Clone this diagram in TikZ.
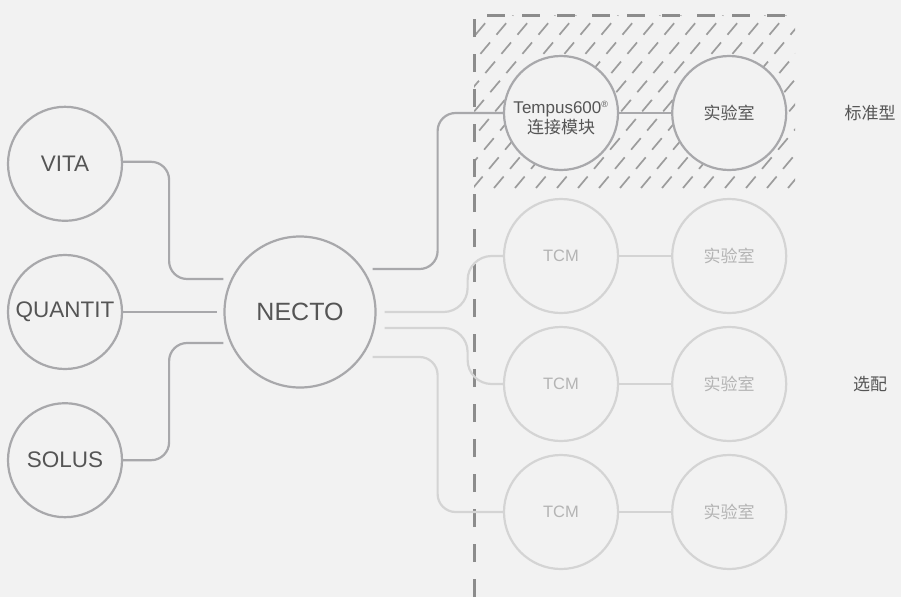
\documentclass[tikz,border=0pt]{standalone}
\usepackage{fontspec}
\setmainfont{Liberation Sans}
\newfontfamily\cjk{Noto Sans CJK SC}
\usetikzlibrary{positioning,calc}

\definecolor{bgGray}{HTML}{F2F2F2}
\definecolor{lineDark}{HTML}{A8A8AB}
\definecolor{linePale}{HTML}{D4D4D4}
\definecolor{textDark}{HTML}{555555}
\definecolor{textPale}{HTML}{B4B4B4}
\definecolor{dashGray}{HTML}{8C8C8C}
\definecolor{hatchGray}{HTML}{9C9C9C}

\begin{document}
\begin{tikzpicture}[x=1pt,y=-1pt,
  unit/.style={circle, draw=lineDark, line width=2.2pt, fill=bgGray, minimum size=114pt, inner sep=0pt, text=textDark, font=\fontsize{22.5}{26}\selectfont},
  hub/.style={unit, minimum size=151pt, font=\fontsize{25}{30}\selectfont},
  module/.style={unit, align=center, font=\fontsize{17}{20}\selectfont},
  optunit/.style={module, draw=linePale, text=textPale},
  link/.style={draw=lineDark, line width=2.2pt, rounded corners=18pt},
  optlink/.style={link, draw=linePale},
  tag/.style={text=textDark, font=\cjk\fontsize{17}{20}\selectfont}
]

% background
\fill[bgGray] (0,0) rectangle (901,597);
\useasboundingbox (0,0) rectangle (901,597);

% hatched box: standard
\begin{scope}
\clip (474,15) rectangle (795,188);
\foreach \x in {326,347,...,810}
  \draw[hatchGray, line width=1.7pt, dash pattern=on 15pt off 10pt] (\x,188) -- ++(145,-173);
\end{scope}

% dashed divider
\draw[dashGray, line width=3pt, dash pattern=on 18pt off 17pt] (474,597) -- (474,15) -- (797,15);

% sources
\node[unit] (quantit) at (65,312) {QUANTIT};
\node[unit, above=32pt of quantit] (vita) {VITA};
\node[unit, below=32pt of quantit] (solus) {SOLUS};

% hub
\node[hub] (necto) at (300,312) {NECTO};

% standard module
\node[module] (tempus) at (561,113) {};
\node[module, draw=none, fill=none, minimum size=0pt] (tempustext) at ([yshift=-5pt]tempus.center)
  {Tempus600\textsuperscript{\small ®}\\[0pt]{\cjk 连接模块}};
\node[module, right=52pt of tempus] (labA) {\cjk 实验室};

% optional modules
\node[optunit] (tcmA) at (561,256) {\fontsize{16.5}{20}\selectfont TCM};
\node[optunit, right=52pt of tcmA] (labB) {\cjk 实验室};
\node[optunit] (tcmB) at (561,384) {\fontsize{16.5}{20}\selectfont TCM};
\node[optunit, right=52pt of tcmB] (labC) {\cjk 实验室};
\node[optunit] (tcmC) at (561,512) {\fontsize{16.5}{20}\selectfont TCM};
\node[optunit, right=52pt of tcmC] (labD) {\cjk 实验室};

% labels
\node[tag] (std) at (870,113) {标准型};
\node[tag] (opt) at (870,384) {选配};

% inputs
\draw[link] ([yshift=2pt]vita.east) -- ++(46,0) |- ($(necto.west)+(0,-33)$);
\draw[link] (quantit.east) -- ([xshift=-6pt]necto.west);
\draw[link] (solus.east) -- ++(46,0) |- ($(necto.west)+(0,31)$);

% outputs
\draw[link] ($(necto.east)+(-4,-43)$) -- ++(65,0) |- (tempus.west);
\draw[optlink, rounded corners=24pt] ($(necto.east)+(8,0)$) -- ++(83,0) |- (tcmA.west);
\draw[optlink, rounded corners=24pt] ($(necto.east)+(8,16)$) -- ++(83,0) |- (tcmB.west);
\draw[optlink] ($(necto.east)+(-4,45)$) -- ++(65,0) |- (tcmC.west);

% module to lab
\draw[link] (tempus) -- (labA);
\draw[optlink] (tcmA) -- (labB);
\draw[optlink] (tcmB) -- (labC);
\draw[optlink] (tcmC) -- (labD);

\end{tikzpicture}
\end{document}
